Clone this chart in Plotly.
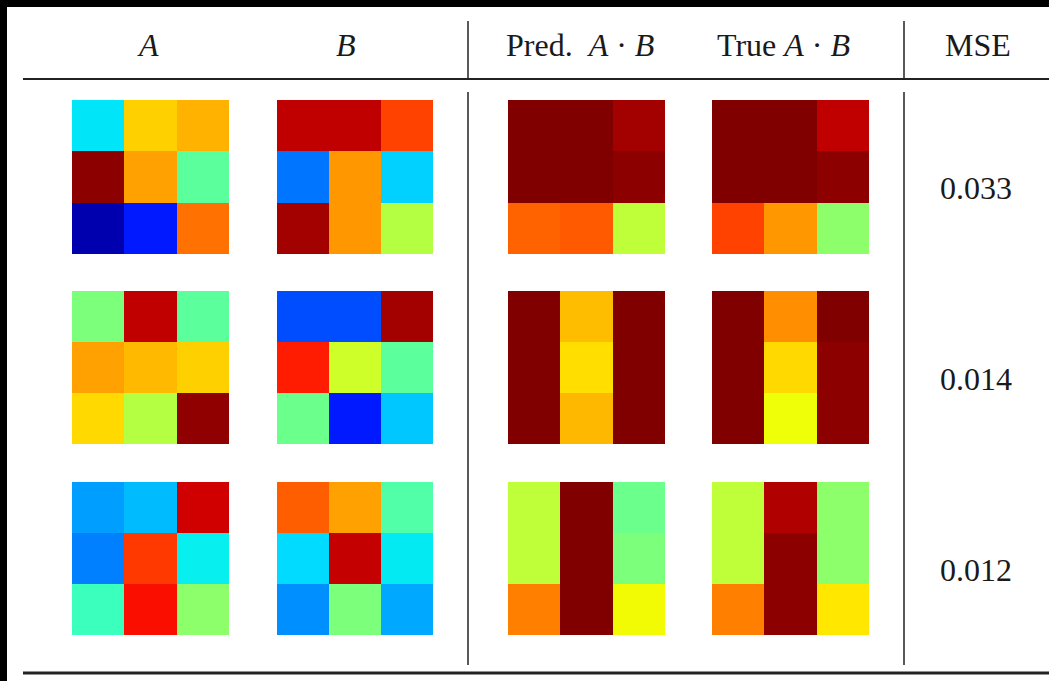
import plotly.graph_objects as go

W, H = 1049, 681

# ---- data (jet-colormap values, 0..1) ----
column_titles = ["<i>A</i>", "<i>B</i>",
                 "Pred.&nbsp;&nbsp;<i>A</i>&nbsp;·&nbsp;<i>B</i>",
                 "True&nbsp;<i>A</i>&nbsp;·&nbsp;<i>B</i>", "MSE"]
mse_values = ["0.033", "0.014", "0.012"]

row1_A = [[0.35, 0.69, 0.72], [0.99, 0.74, 0.46], [0.04, 0.15, 0.79]]
row1_B = [[0.945, 0.945, 0.84], [0.24, 0.75, 0.33], [0.97, 0.75, 0.57]]
row1_pred = [[1.0, 1.0, 0.97], [1.0, 1.0, 0.99], [0.805, 0.815, 0.58]]
row1_true = [[1.0, 1.0, 0.945], [1.0, 1.0, 0.99], [0.84, 0.75, 0.52]]

row2_A = [[0.50, 0.945, 0.46], [0.74, 0.713, 0.69], [0.68, 0.57, 0.986]]
row2_B = [[0.20, 0.20, 0.97], [0.88, 0.60, 0.46], [0.48, 0.15, 0.32]]
row2_pred = [[1.0, 0.71, 1.0], [1.0, 0.675, 1.0], [1.0, 0.715, 1.0]]
row2_true = [[1.0, 0.76, 1.0], [1.0, 0.68, 0.99], [1.0, 0.64, 0.99]]

row3_A = [[0.28, 0.31, 0.93], [0.25, 0.85, 0.36], [0.42, 0.895, 0.52]]
row3_B = [[0.81, 0.74, 0.447], [0.34, 0.94, 0.355], [0.265, 0.50, 0.29]]
row3_pred = [[0.58, 1.0, 0.48], [0.58, 1.0, 0.50], [0.775, 1.0, 0.645]]
row3_true = [[0.58, 0.958, 0.52], [0.58, 0.99, 0.52], [0.775, 0.99, 0.665]]

rows = [
    [row1_A, row1_B, row1_pred, row1_true],
    [row2_A, row2_B, row2_pred, row2_true],
    [row3_A, row3_B, row3_pred, row3_true],
]

# ---- matplotlib "jet" colorscale ----
seg = {
    "r": [(0, 0), (0.35, 0), (0.66, 1), (0.89, 1), (1, 0.5)],
    "g": [(0, 0), (0.125, 0), (0.375, 1), (0.64, 1), (0.91, 0), (1, 0)],
    "b": [(0, 0.5), (0.11, 1), (0.34, 1), (0.65, 0), (1, 0)],
}
def interp(pts, v):
    for (x0, y0), (x1, y1) in zip(pts[:-1], pts[1:]):
        if x0 <= v <= x1:
            return y0 + (y1 - y0) * (v - x0) / (x1 - x0) if x1 > x0 else y1
    return pts[-1][1]
stops = sorted(set(p[0] for c in seg.values() for p in c))
jet = [[s, "rgb(%d,%d,%d)" % tuple(round(255 * interp(seg[c], s)) for c in "rgb")] for s in stops]

# ---- layout geometry (pixels) ----
col_x = [(72, 229), (277, 433), (508, 665), (712, 869)]
row_y = [(100, 254), (291, 444), (482, 635)]
px = lambda x: x / W
py = lambda y: 1 - y / H

fig = go.Figure()
layout = {}
k = 0
for r, mats in enumerate(rows):
    for c, z in enumerate(mats):
        k += 1
        xa = "x" if k == 1 else "x%d" % k
        ya = "y" if k == 1 else "y%d" % k
        fig.add_trace(go.Heatmap(z=z, x=[0, 1, 2], y=[0, 1, 2], colorscale=jet,
                                 zmin=0, zmax=1, showscale=False, xaxis=xa, yaxis=ya,
                                 hoverinfo="skip"))
        xn = "xaxis" if k == 1 else "xaxis%d" % k
        yn = "yaxis" if k == 1 else "yaxis%d" % k
        layout[xn] = dict(domain=[px(col_x[c][0]), px(col_x[c][1])], visible=False,
                          range=[-0.5, 2.5], anchor=ya, fixedrange=True)
        layout[yn] = dict(domain=[py(row_y[r][1]), py(row_y[r][0])], visible=False,
                          range=[2.5, -0.5], anchor=xa, fixedrange=True)
fig.update_layout(**layout)

font = dict(family="Liberation Serif, DejaVu Serif, serif", color="#1a1a1a")
annotations = []
header_x = [148, 346, 580, 783, 978]
for t, x in zip(column_titles, header_x):
    annotations.append(dict(text=t, x=px(x), y=py(45), xref="paper", yref="paper",
                            showarrow=False, xanchor="center", yanchor="middle",
                            font=dict(size=32, **font)))
for t, (y0, y1) in zip(mse_values, row_y):
    annotations.append(dict(text=t, x=px(976), y=py((y0 + y1) / 2 + 11), xref="paper", yref="paper",
                            showarrow=False, xanchor="center", yanchor="middle",
                            font=dict(size=32, **font)))

line_col = "#222222"
shapes = [
    # black borders at top and left
    dict(type="rect", xref="paper", yref="paper", x0=0, x1=1, y0=py(7), y1=1,
         fillcolor="black", line_width=0),
    dict(type="rect", xref="paper", yref="paper", x0=0, x1=px(7), y0=0, y1=1,
         fillcolor="black", line_width=0),
    # header rule and bottom rule
    dict(type="line", xref="paper", yref="paper", x0=px(23), x1=1, y0=py(79), y1=py(79),
         line=dict(color=line_col, width=2)),
    dict(type="line", xref="paper", yref="paper", x0=px(23), x1=1, y0=py(673), y1=py(673),
         line=dict(color=line_col, width=3)),
]
for vx in (468, 904):
    shapes.append(dict(type="line", xref="paper", yref="paper", x0=px(vx), x1=px(vx),
                       y0=py(21), y1=py(78), line=dict(color=line_col, width=1.5)))
    shapes.append(dict(type="line", xref="paper", yref="paper", x0=px(vx), x1=px(vx),
                       y0=py(92), y1=py(665), line=dict(color=line_col, width=1.5)))

fig.update_layout(width=W, height=H, margin=dict(l=0, r=0, t=0, b=0),
                  paper_bgcolor="white", plot_bgcolor="white",
                  annotations=annotations, shapes=shapes, showlegend=False)

fig.write_html("out.html", config={"displayModeBar": False},
               post_script="document.body.style.margin='0';document.body.style.overflow='hidden';")
